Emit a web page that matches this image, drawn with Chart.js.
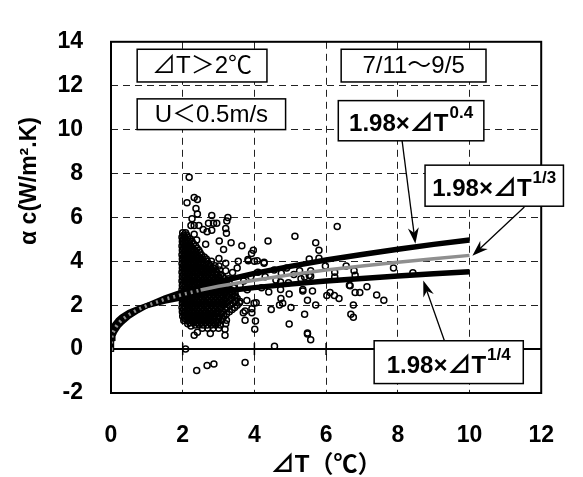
<!DOCTYPE html>
<html>
<head>
<meta charset="utf-8">
<script src="https://cdn.jsdelivr.net/npm/chart.js@4.4.0/dist/chart.umd.min.js"></script>
<style>
  html, body { margin: 0; padding: 0; background: #fff; }
</style>
</head>
<body>
<canvas id="chart" width="583" height="477"></canvas>
<script>
// fitted curves, alpha c = 1.98 x dT^n
var curveT  = [0, 0.01, 0.03, 0.05, 0.1, 0.2, 0.3, 0.5, 0.75, 1, 1.5, 2, 2.5, 3, 4, 5, 6, 7, 8, 9, 10];
var fit04   = [0, 0.31, 0.49, 0.60, 0.79, 1.04, 1.22, 1.50, 1.76, 1.98, 2.33, 2.61, 2.86, 3.07, 3.45, 3.77, 4.06, 4.31, 4.55, 4.77, 4.97];
var fit13   = [0, 0.43, 0.62, 0.73, 0.92, 1.16, 1.33, 1.57, 1.80, 1.98, 2.27, 2.49, 2.69, 2.86, 3.14, 3.39, 3.60, 3.79, 3.96, 4.12, 4.27];
var fit14   = [0, 0.63, 0.82, 0.94, 1.11, 1.32, 1.47, 1.67, 1.84, 1.98, 2.19, 2.35, 2.49, 2.61, 2.80, 2.96, 3.10, 3.22, 3.33, 3.43, 3.52];

// measured points: the dense cloud, row by row (alpha c, list of dT)
var cloudRows = [
  [5.30, [2.00, 2.08]],
  [5.20, [2.03, 2.11]],
  [5.10, [1.98, 2.05, 2.14]],
  [5.00, [2.01, 2.10, 2.20]],
  [4.90, [1.99, 2.07, 2.16, 2.26]],
  [4.80, [2.02, 2.10, 2.19, 2.30]],
  [4.70, [1.98, 2.06, 2.14, 2.22, 2.36]],
  [4.60, [2.02, 2.10, 2.18, 2.28, 2.40]],
  [4.50, [1.99, 2.07, 2.15, 2.24, 2.33, 2.45]],
  [4.40, [2.03, 2.11, 2.19, 2.28, 2.37, 2.48]],
  [4.30, [1.98, 2.06, 2.14, 2.22, 2.31, 2.40, 2.52]],
  [4.20, [2.02, 2.10, 2.18, 2.27, 2.36, 2.47, 2.60]],
  [4.10, [1.99, 2.07, 2.15, 2.24, 2.33, 2.43, 2.55, 2.66]],
  [4.00, [2.03, 2.11, 2.19, 2.28, 2.37, 2.46, 2.56, 2.68, 2.80]],
  [3.90, [1.98, 2.06, 2.14, 2.23, 2.32, 2.41, 2.50, 2.60, 2.72]],
  [3.80, [2.02, 2.10, 2.19, 2.28, 2.37, 2.46, 2.55, 2.65, 2.78, 2.90]],
  [3.70, [1.99, 2.07, 2.16, 2.25, 2.34, 2.44, 2.54, 2.64, 2.75, 2.86]],
  [3.60, [2.03, 2.11, 2.20, 2.29, 2.38, 2.48, 2.58, 2.68, 2.79, 2.91, 3.03]],
  [3.50, [1.98, 2.06, 2.15, 2.24, 2.33, 2.42, 2.52, 2.62, 2.72, 2.83, 2.95]],
  [3.40, [2.02, 2.11, 2.20, 2.30, 2.40, 2.50, 2.60, 2.70, 2.81, 2.93, 3.06]],
  [3.30, [1.99, 2.08, 2.17, 2.26, 2.35, 2.45, 2.55, 2.65, 2.76, 2.87, 3.00, 3.12]],
  [3.20, [2.03, 2.12, 2.21, 2.30, 2.39, 2.49, 2.59, 2.69, 2.80, 2.92, 3.04, 3.16, 3.28]],
  [3.10, [1.98, 2.07, 2.16, 2.25, 2.34, 2.44, 2.54, 2.64, 2.75, 2.86, 2.98, 3.10, 3.22]],
  [3.00, [2.02, 2.12, 2.21, 2.30, 2.40, 2.50, 2.60, 2.70, 2.81, 2.93, 3.05, 3.18, 3.30]],
  [2.90, [1.99, 2.08, 2.17, 2.26, 2.35, 2.45, 2.55, 2.65, 2.76, 2.87, 2.99, 3.11, 3.24]],
  [2.80, [2.03, 2.12, 2.21, 2.30, 2.39, 2.49, 2.59, 2.69, 2.79, 2.90, 3.02, 3.14, 3.27, 3.42]],
  [2.70, [1.98, 2.07, 2.16, 2.25, 2.34, 2.44, 2.54, 2.64, 2.74, 2.85, 2.96, 3.08, 3.20, 3.34]],
  [2.60, [2.02, 2.12, 2.21, 2.30, 2.40, 2.50, 2.60, 2.70, 2.80, 2.91, 3.03, 3.15, 3.30, 3.46]],
  [2.50, [1.99, 2.08, 2.17, 2.26, 2.35, 2.45, 2.55, 2.65, 2.75, 2.86, 2.97, 3.09, 3.22, 3.38]],
  [2.40, [2.03, 2.12, 2.21, 2.30, 2.39, 2.49, 2.59, 2.69, 2.79, 2.90, 3.02, 3.14, 3.28, 3.44]],
  [2.30, [1.98, 2.07, 2.16, 2.25, 2.34, 2.44, 2.54, 2.64, 2.74, 2.85, 2.96, 3.08, 3.21, 3.36, 3.52]],
  [2.20, [2.02, 2.12, 2.21, 2.30, 2.40, 2.50, 2.60, 2.70, 2.80, 2.91, 3.03, 3.15, 3.30, 3.48]],
  [2.10, [1.99, 2.08, 2.17, 2.26, 2.35, 2.45, 2.55, 2.65, 2.75, 2.86, 2.97, 3.09, 3.22, 3.40, 3.58]],
  [2.00, [2.03, 2.12, 2.21, 2.30, 2.39, 2.49, 2.59, 2.69, 2.79, 2.90, 3.02, 3.15, 3.32, 3.52]],
  [1.90, [1.98, 2.07, 2.16, 2.25, 2.34, 2.44, 2.54, 2.64, 2.74, 2.85, 2.96, 3.08, 3.22, 3.45]],
  [1.80, [2.02, 2.12, 2.21, 2.30, 2.40, 2.50, 2.60, 2.70, 2.80, 2.91, 3.04, 3.18, 3.38]],
  [1.70, [1.99, 2.08, 2.17, 2.26, 2.35, 2.45, 2.55, 2.65, 2.75, 2.86, 2.98, 3.12, 3.30]],
  [1.60, [2.03, 2.12, 2.21, 2.31, 2.41, 2.51, 2.61, 2.71, 2.82, 2.94, 3.07, 3.22]],
  [1.50, [2.00, 2.09, 2.18, 2.27, 2.36, 2.46, 2.56, 2.66, 2.77, 2.88, 3.00, 3.15]],
  [1.40, [2.05, 2.15, 2.25, 2.35, 2.45, 2.55, 2.65, 2.76, 2.88, 3.00, 3.12]],
  [1.30, [2.03, 2.12, 2.21, 2.30, 2.40, 2.50, 2.60, 2.71, 2.82, 2.94, 3.08]],
  [1.20, [2.20, 2.30, 2.41, 2.52, 2.63, 2.74, 2.86, 2.98]],
  [1.10, [2.35, 2.46, 2.57, 2.68, 2.80, 2.92, 3.05]],
  [0.95, [2.55, 2.70, 2.85, 3.00]]
];

// measured points outside the cloud [dT, alpha c]
var scattered = [
  [2.18, 7.83], [2.32, 6.91], [2.41, 6.81], [2.12, 6.67], [2.37, 6.41], [2.41, 6.16], [2.26, 5.94],
  [2.81, 6.09], [3.26, 5.99], [3.23, 5.84], [2.23, 5.63], [2.32, 5.63], [2.45, 5.63], [2.72, 5.73],
  [2.86, 5.73], [2.95, 5.73], [3.20, 5.49], [3.22, 5.28], [2.57, 5.45], [2.68, 5.35], [2.81, 5.42],
  [2.32, 5.23], [2.39, 4.97], [3.02, 4.92], [3.35, 4.85], [3.65, 4.71], [4.38, 4.92], [3.14, 4.54],
  [2.64, 4.78], [3.97, 4.50], [3.92, 4.35], [3.83, 4.03], [4.08, 4.03], [4.27, 3.96], [5.13, 5.14],
  [5.53, 4.11], [6.31, 5.59], [5.71, 4.85], [5.80, 4.50], [5.80, 4.14], [5.98, 3.79], [7.88, 3.69],
  [6.56, 3.79], [6.78, 3.57], [6.81, 3.36], [6.24, 3.50], [6.24, 3.29], [8.42, 3.48], [6.65, 2.91],
  [7.14, 2.84], [5.26, 3.57], [5.40, 3.29], [5.57, 3.32], [5.57, 3.57], [5.35, 2.65], [5.62, 2.65],
  [5.48, 2.23], [5.71, 2.01], [5.40, 1.59], [5.48, 0.69], [5.57, 0.43], [6.02, 2.44], [6.11, 2.58],
  [6.23, 2.44], [6.36, 2.30], [6.67, 2.89], [6.81, 2.58], [6.94, 2.58], [7.41, 2.47], [7.61, 2.23],
  [6.76, 2.01], [6.69, 1.59], [6.76, 1.45], [2.14, 1.16], [2.23, 1.05], [2.32, 0.63], [2.41, 0.77],
  [2.77, 0.71], [3.18, 0.63], [3.18, 0.91], [3.20, 1.16], [3.22, 1.31], [3.74, 1.31], [3.69, 1.66],
  [4.01, 0.91], [4.03, 1.28], [3.93, 1.66], [3.93, 1.84], [3.99, 2.09], [4.05, 2.11], [2.08, 0.00],
  [4.56, 0.13], [2.39, -0.97], [2.68, -0.75], [2.87, -0.68], [3.74, -0.61], [4.47, 1.80], [4.70, 2.01],
  [4.79, 2.09], [4.97, 2.51], [4.74, 2.30], [5.02, 1.90], [4.97, 1.14], [5.48, 0.73],
  [3.01, 4.13], [3.20, 3.91], [3.55, 4.00], [3.82, 4.08], [4.00, 4.00], [4.27, 3.91], [3.39, 3.49],
  [3.52, 3.70], [3.20, 3.57], [3.01, 3.79], [3.47, 2.43], [3.60, 2.17], [3.79, 2.21], [3.74, 1.74],
  [4.73, 3.06], [4.95, 3.02], [4.73, 2.72], [5.35, 2.72], [5.53, 3.36], [4.55, 3.60], [4.75, 3.45],
  [4.90, 3.70], [5.10, 3.40], [5.30, 3.20], [4.60, 3.15], [4.30, 3.30], [4.10, 3.50], [3.90, 3.30],
  [3.70, 3.10], [4.20, 2.80], [4.40, 2.60], [3.80, 2.70], [3.60, 2.90]
];

var xTicks = [0, 2, 4, 6, 8, 10, 12];
var yTicks = [-2, 0, 2, 4, 6, 8, 10, 12, 14];

var FONT = "Arial, 'Liberation Sans', 'Noto Sans CJK JP', sans-serif";

var observed = [];
cloudRows.forEach(function (r) {
  r[1].forEach(function (t) { observed.push({ x: t, y: r[0] }); });
});
scattered.forEach(function (p) { observed.push({ x: p[0], y: p[1] }); });

function curve(vals) {
  return curveT.map(function (t, i) { return { x: t, y: vals[i] }; });
}

// text boxes and arrows, in data units
var boxes = [
  { x1: 0.73, x2: 4.35, y1: 13.66, y2: 12.17, text: '⊿T＞2℃', bold: false },
  { x1: 6.42, x2: 10.46, y1: 13.66, y2: 12.17, text: '7/11～9/5', bold: false },
  { x1: 0.73, x2: 4.87, y1: 11.40, y2: 10.00, text: 'U＜0.5m/s', bold: false },
  { x1: 6.34, x2: 10.40, y1: 11.32, y2: 9.49, text: '1.98×⊿T', sup: '0.4', bold: true },
  { x1: 8.76, x2: 12.62, y1: 8.38, y2: 6.51, text: '1.98×⊿T', sup: '1/3', bold: true },
  { x1: 7.34, x2: 11.50, y1: 0.38, y2: -1.57, text: '1.98×⊿T', sup: '1/4', bold: true }
];
var arrows = [
  { from: [8.12, 9.49], to: [8.49, 4.80] },
  { from: [11.53, 6.47], to: [10.08, 4.25] },
  { from: [9.30, 0.38], to: [8.71, 3.12] }
];

var extras = {
  id: 'extras',
  beforeDatasetsDraw: function (chart) {
    var ctx = chart.ctx, a = chart.chartArea;
    var xs = chart.scales.x, ys = chart.scales.y;
    var y0 = ys.getPixelForValue(0);
    ctx.save();
    ctx.strokeStyle = '#000';
    ctx.lineWidth = 2;
    ctx.beginPath();
    ctx.moveTo(a.left, y0); ctx.lineTo(a.right, y0);
    ctx.stroke();
    ctx.lineWidth = 1.5;
    xTicks.forEach(function (t) {
      if (t === 0 || t === 12) return;
      var px = xs.getPixelForValue(t);
      ctx.beginPath();
      ctx.moveTo(px, y0 - 6); ctx.lineTo(px, y0 + 6);
      ctx.stroke();
    });
    ctx.restore();
  },
  afterDraw: function (chart) {
    var ctx = chart.ctx, a = chart.chartArea;
    var xs = chart.scales.x, ys = chart.scales.y;
    ctx.save();
    // frame
    ctx.strokeStyle = '#000';
    ctx.lineWidth = 2;
    ctx.strokeRect(a.left, a.top, a.right - a.left, a.bottom - a.top);

    // arrows
    arrows.forEach(function (ar) {
      var x1 = xs.getPixelForValue(ar.from[0]), y1 = ys.getPixelForValue(ar.from[1]);
      var x2 = xs.getPixelForValue(ar.to[0]), y2 = ys.getPixelForValue(ar.to[1]);
      var ang = Math.atan2(y2 - y1, x2 - x1);
      ctx.strokeStyle = '#000';
      ctx.lineWidth = 1.3;
      ctx.beginPath();
      ctx.moveTo(x1, y1);
      ctx.lineTo(x2 - 8 * Math.cos(ang), y2 - 8 * Math.sin(ang));
      ctx.stroke();
      ctx.save();
      ctx.translate(x2, y2);
      ctx.rotate(ang);
      ctx.fillStyle = '#000';
      ctx.beginPath();
      ctx.moveTo(0, 0);
      ctx.lineTo(-16, -5.5);
      ctx.lineTo(-11, 0);
      ctx.lineTo(-16, 5.5);
      ctx.closePath();
      ctx.fill();
      ctx.restore();
    });

    // boxes
    boxes.forEach(function (b) {
      var l = xs.getPixelForValue(b.x1), r = xs.getPixelForValue(b.x2);
      var t = ys.getPixelForValue(b.y1), btm = ys.getPixelForValue(b.y2);
      ctx.fillStyle = '#fff';
      ctx.fillRect(l, t, r - l, btm - t);
      ctx.strokeStyle = '#000';
      ctx.lineWidth = 1.5;
      ctx.strokeRect(l, t, r - l, btm - t);
      ctx.fillStyle = '#000';
      ctx.textBaseline = 'middle';
      ctx.textAlign = 'left';
      var main = (b.bold ? 'bold ' : '') + '24px ' + FONT;
      var supF = 'bold 17px ' + FONT;
      ctx.font = main;
      var w = ctx.measureText(b.text).width;
      var sw = 0;
      if (b.sup) { ctx.font = supF; sw = ctx.measureText(b.sup).width + 1; }
      var sx = (l + r) / 2 - (w + sw) / 2;
      var cy = (t + btm) / 2 + 1;
      ctx.font = main;
      ctx.fillText(b.text, sx, b.sup ? cy + 3 : cy);
      if (b.sup) {
        ctx.font = supF;
        ctx.fillText(b.sup, sx + w + 1, cy - 8);
      }
    });

    // axis titles
    ctx.fillStyle = '#000';
    ctx.textAlign = 'center';
    ctx.textBaseline = 'middle';
    ctx.font = 'bold 24px ' + FONT;
    ctx.fillText('⊿T（℃）', (a.left + a.right) / 2, 465);
    ctx.save();
    ctx.translate(30, 181);
    ctx.rotate(-Math.PI / 2);
    ctx.font = 'bold 23px ' + FONT;
    ctx.fillText('α c(W/m².K)', 0, 0);
    ctx.restore();
    ctx.restore();
  }
};

new Chart(document.getElementById('chart'), {
  type: 'scatter',
  data: {
    datasets: [
      {
        data: curve(fit13), showLine: true, borderColor: '#8f8f8f', borderWidth: 3.5, pointRadius: 0, tension: 0,
        segment: { borderDash: function (c) { return c.p0.parsed.x < 2.5 ? [2, 4] : undefined; } }
      },
      { data: curve(fit04), showLine: true, borderColor: '#000', borderWidth: 5.5, pointRadius: 0, tension: 0 },
      { data: curve(fit14), showLine: true, borderColor: '#000', borderWidth: 5.5, pointRadius: 0, tension: 0 },
      { data: observed, pointRadius: 3, pointBorderWidth: 1.5, pointBorderColor: '#000', pointBackgroundColor: 'rgba(0,0,0,0)' }
    ]
  },
  options: {
    responsive: false,
    animation: false,
    devicePixelRatio: 1,
    layout: { padding: { top: 14, right: 26, left: 0, bottom: 0 } },
    plugins: { legend: { display: false }, tooltip: { enabled: false } },
    scales: {
      x: {
        type: 'linear', min: 0, max: 12,
        afterBuildTicks: function (s) { s.ticks = xTicks.map(function (v) { return { value: v }; }); },
        ticks: { color: '#000', padding: 29, font: { family: FONT, size: 23, weight: 'bold' } },
        grid: {
          drawTicks: false, lineWidth: 1,
          color: function (c) { var v = c.tick && c.tick.value; return (v === 0 || v === 12) ? 'rgba(0,0,0,0)' : '#222'; }
        },
        border: { display: false, dash: [7, 5] },
        afterFit: function (s) { s.height = 84; }
      },
      y: {
        type: 'linear', min: -2, max: 14,
        afterBuildTicks: function (s) { s.ticks = yTicks.map(function (v) { return { value: v }; }); },
        ticks: { color: '#000', padding: 28, font: { family: FONT, size: 23, weight: 'bold' } },
        grid: {
          drawTicks: false, lineWidth: 1,
          color: function (c) { var v = c.tick && c.tick.value; return (v === -2 || v === 0 || v === 14) ? 'rgba(0,0,0,0)' : '#222'; }
        },
        border: { display: false, dash: [7, 5] },
        afterFit: function (s) { s.width = 111; }
      }
    }
  },
  plugins: [extras]
});
</script>
</body>
</html>
